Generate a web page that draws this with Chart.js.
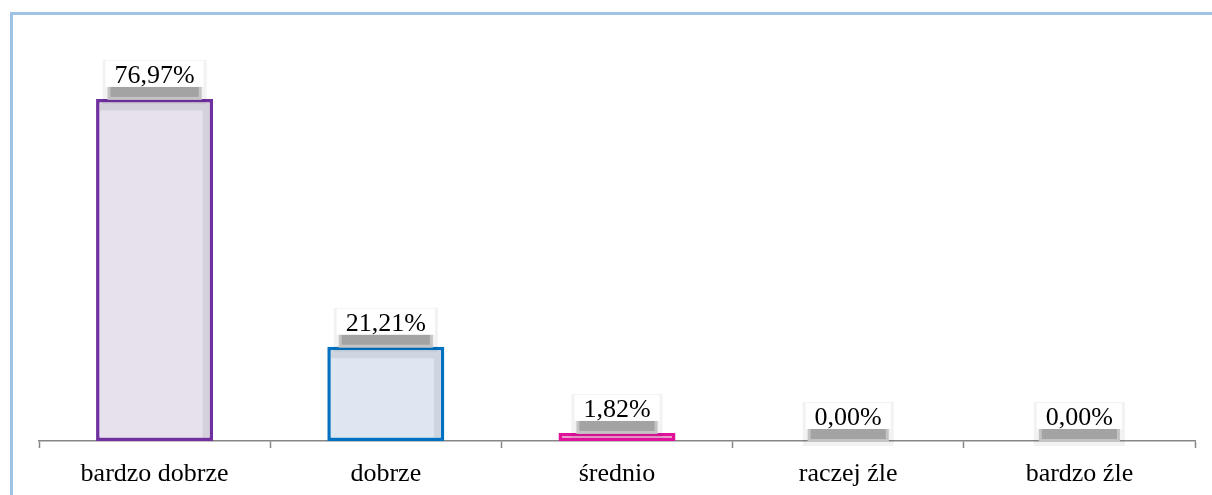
<!DOCTYPE html>
<html>
<head>
<meta charset="utf-8">
<script src="https://cdn.jsdelivr.net/npm/chart.js@4/dist/chart.umd.min.js"></script>
<style>
  html, body { margin: 0; padding: 0; background: #fff; }
  #wrap { position: relative; width: 1212px; height: 495px; }
  #frame { position: absolute; left: 10px; top: 12px; width: 1300px; height: 600px;
           border-left: 3px solid #9dc3e6; border-top: 3px solid #9dc3e6; pointer-events: none; }
</style>
</head>
<body>
<div id="wrap">
  <canvas id="c" width="1212" height="495"></canvas>
  <div id="frame"></div>
</div>
<script>
const categories = ['bardzo dobrze', 'dobrze', 'średnio', 'raczej źle', 'bardzo źle'];
const values = [76.97, 21.21, 1.82, 0, 0];
const fills = ['#e6e1ec', '#dde6f1', '#e4b2cf', '#e6e1ec', '#e6e1ec'];
const borders = ['#7030a0', '#0070c0', '#e0129a', '#7030a0', '#7030a0'];

const serif = '"Liberation Serif", "Times New Roman", serif';
const fmt = v => v.toFixed(2).replace('.', ',') + '%';

// faint inner shading on the bars (top and right edges)
const barShade = {
  id: 'barShade',
  afterDatasetsDraw(chart) {
    const ctx = chart.ctx;
    ctx.save();
    chart.getDatasetMeta(0).data.forEach(bar => {
      const h = bar.base - bar.y;
      if (h < 12) return;
      const l = bar.x - bar.width / 2 + 3.5, r = bar.x + bar.width / 2 - 3.5;
      ctx.fillStyle = 'rgba(0,0,0,0.07)';
      ctx.fillRect(l, bar.y + 3.5, r - l, 8);
      ctx.fillRect(r - 7, bar.y + 11.5, 7, h - 15);
    });
    ctx.restore();
  }
};

// white label box with grey drop shadow, like the Excel original
const labelBoxes = {
  id: 'labelBoxes',
  afterDatasetsDraw(chart) {
    const ctx = chart.ctx;
    const meta = chart.getDatasetMeta(0);
    ctx.save();
    ctx.font = '26px ' + serif;
    ctx.textAlign = 'center';
    ctx.textBaseline = 'middle';
    meta.data.forEach((bar, i) => {
      const txt = fmt(values[i]);
      const w = ctx.measureText(txt).width + 18;
      const x = bar.x, top = bar.y;
      const bx = x - w / 2;
      // soft halo
      ctx.fillStyle = 'rgba(0,0,0,0.05)';
      ctx.fillRect(bx - 3, top - 39, w + 6, 44);
      // grey shadow band
      ctx.fillStyle = '#c4c4c4';
      ctx.fillRect(bx + 2, top - 13, w - 4, 14);
      ctx.fillStyle = '#a3a3a3';
      ctx.fillRect(bx + 5, top - 12, w - 10, 10);
      // white box
      ctx.fillStyle = '#fff';
      ctx.fillRect(bx, top - 38, w, 26);
      ctx.fillStyle = '#000';
      ctx.fillText(txt, x, top - 23);
    });
    ctx.restore();
  }
};

new Chart(document.getElementById('c'), {
  type: 'bar',
  data: {
    labels: categories,
    datasets: [{
      data: values,
      backgroundColor: fills,
      borderColor: borders,
      borderWidth: 3.5,
      borderSkipped: false,
      categoryPercentage: 1,
      barPercentage: 0.506
    }]
  },
  options: {
    responsive: false,
    animation: false,
    layout: { padding: { left: 39, right: 17, top: 41, bottom: -5 } },
    plugins: { legend: { display: false }, tooltip: { enabled: false } },
    scales: {
      y: { display: false, min: 0, max: 90 },
      x: {
        offset: true,
        grid: { offset: true, drawOnChartArea: false, tickLength: 7, tickColor: '#868686', tickWidth: 1.5 },
        border: { color: '#868686', width: 1.5 },
        ticks: { color: '#000', padding: 13, font: { family: serif, size: 26, lineHeight: 1 } }
      }
    }
  },
  plugins: [barShade, labelBoxes]
});
</script>
</body>
</html>
